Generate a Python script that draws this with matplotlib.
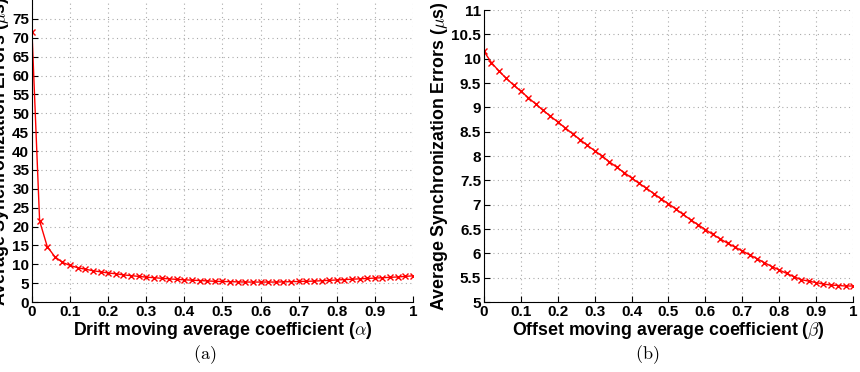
import matplotlib
matplotlib.use('Agg')
import matplotlib as mpl
import matplotlib.pyplot as plt
import numpy as np

mpl.rcParams['font.family'] = 'Liberation Sans'
mpl.rcParams['font.weight'] = 'bold'
mpl.rcParams['axes.labelweight'] = 'bold'
mpl.rcParams['mathtext.fontset'] = 'cm'

# coefficient values (0 .. 1, step 0.02)
coef = [round(0.02 * i, 2) for i in range(51)]

drift_err = [71.5, 21.5, 14.7, 12.0, 10.5, 9.7, 9.1, 8.7, 8.3, 8.0,
             7.7, 7.5, 7.2, 7.0, 6.8, 6.6, 6.45, 6.3, 6.15, 6.0,
             5.9, 5.8, 5.7, 5.6, 5.5, 5.45, 5.4, 5.35, 5.3, 5.3,
             5.3, 5.3, 5.3, 5.35, 5.4, 5.45, 5.5, 5.55, 5.65, 5.75,
             5.85, 5.95, 6.05, 6.15, 6.25, 6.35, 6.45, 6.55, 6.65, 6.8,
             6.95]

offset_err = [10.15, 9.92, 9.75, 9.60, 9.46, 9.33, 9.20, 9.07, 8.94, 8.82,
              8.70, 8.58, 8.46, 8.34, 8.22, 8.11, 8.00, 7.88, 7.77, 7.66,
              7.55, 7.44, 7.34, 7.23, 7.12, 7.02, 6.91, 6.80, 6.69, 6.59,
              6.49, 6.39, 6.30, 6.21, 6.13, 6.05, 5.97, 5.89, 5.81, 5.73,
              5.66, 5.59, 5.52, 5.46, 5.43, 5.40, 5.37, 5.35, 5.34, 5.33,
              5.33]

x_ticks = [0, 0.1, 0.2, 0.3, 0.4, 0.5, 0.6, 0.7, 0.8, 0.9, 1]
x_labels = ['0', '0.1', '0.2', '0.3', '0.4', '0.5', '0.6', '0.7', '0.8', '0.9', '1']
drift_yticks = [0, 5, 10, 15, 20, 25, 30, 35, 40, 45, 50, 55, 60, 65, 70, 75]
offset_yticks = [5, 5.5, 6, 6.5, 7, 7.5, 8, 8.5, 9, 9.5, 10, 10.5, 11]
offset_ylabels = ['5', '5.5', '6', '6.5', '7', '7.5', '8', '8.5', '9', '9.5', '10', '10.5', '11']

ylabel = r'Average Synchronization Errors ($\mathrm{\mu}$s)'


def style_axes(ax):
    ax.spines['top'].set_visible(False)
    ax.spines['right'].set_visible(False)
    ax.tick_params(direction='in', length=4, width=0.8, labelsize=11, pad=2)
    ax.grid(True, linestyle=(0, (1, 3)), color='#aaaaaa', linewidth=0.8)
    ax.set_axisbelow(True)
    ax.set_xlim(0, 1)
    ax.set_xticks(x_ticks)
    ax.set_xticklabels(x_labels, fontweight='bold')


fig = plt.figure(figsize=(8.6, 3.72), dpi=100)

ax1 = fig.add_axes([0.0372, 0.188, 0.443, 0.812])
ax1.plot(coef, drift_err, color='red', marker='x', markersize=4.5, linewidth=1)
style_axes(ax1)
ax1.set_ylim(0, 80)
ax1.set_yticks(drift_yticks)
ax1.set_yticklabels([str(v) for v in drift_yticks], fontweight='bold')
ax1.set_xlabel(r'Drift moving average coefficient ($\alpha$)', fontsize=12.8,
               fontweight='bold', labelpad=1)
ax1.set_ylabel(ylabel, fontsize=12.8, fontweight='bold', labelpad=1)

ax2 = fig.add_axes([0.5628, 0.188, 0.429, 0.785])
ax2.plot(coef, offset_err, color='red', marker='x', markersize=4.5, linewidth=1)
style_axes(ax2)
ax2.set_ylim(5, 11)
ax2.set_yticks(offset_yticks)
ax2.set_yticklabels(offset_ylabels, fontweight='bold')
ax2.set_xlabel(r'Offset moving average coefficient ($\beta$)', fontsize=12.8,
               fontweight='bold', labelpad=1)
ax2.set_ylabel(ylabel, fontsize=12.8, fontweight='bold', labelpad=1)

fig.text(0.238, 0.048, r'$\mathrm{(a)}$', ha='center', va='center', fontsize=13)
fig.text(0.753, 0.048, r'$\mathrm{(b)}$', ha='center', va='center', fontsize=13)

fig.savefig('out.png', dpi=100)
